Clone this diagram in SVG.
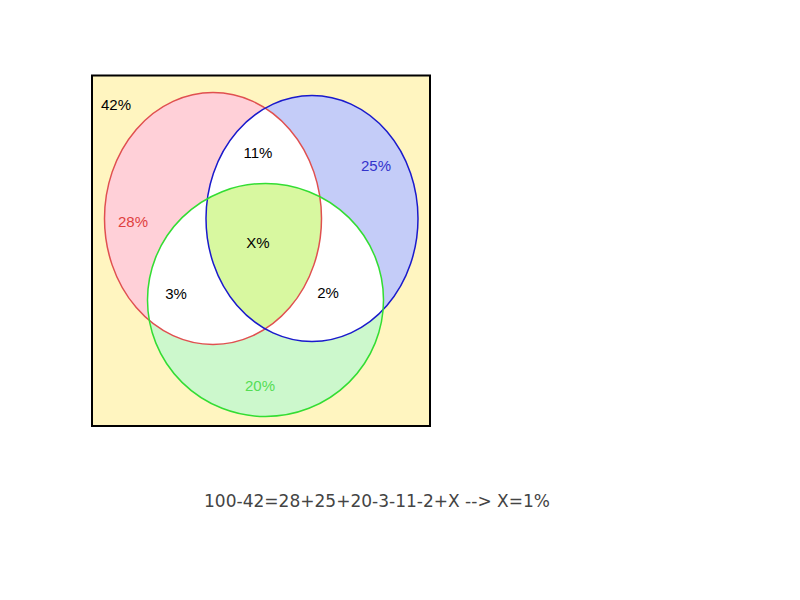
<svg xmlns="http://www.w3.org/2000/svg" width="800" height="600" viewBox="0 0 800 600">
<style>
text{font-family:"Liberation Sans",Arial,sans-serif;font-size:15px;text-anchor:middle}
.eq{font-family:"DejaVu Sans","Liberation Sans",sans-serif;font-size:18px;fill:#444}
</style>
<defs>
<clipPath id="cR"><ellipse cx="213" cy="218.5" rx="108.5" ry="126"/></clipPath>
<clipPath id="cB"><ellipse cx="312" cy="218.5" rx="106" ry="123"/></clipPath>
<clipPath id="cG"><ellipse cx="265.5" cy="300" rx="118" ry="116.5"/></clipPath>
</defs>
<rect width="800" height="600" fill="#fff"/>
<g id="frame"><rect x="92" y="75.5" width="338" height="350.5" fill="#fff5c0" stroke="#000" stroke-width="2"/></g>
<g id="fills">
<ellipse cx="213" cy="218.5" rx="108.5" ry="126" fill="#ffd0d8"/>
<ellipse cx="312" cy="218.5" rx="106" ry="123" fill="#c4ccf8"/>
<ellipse cx="265.5" cy="300" rx="118" ry="116.5" fill="#ccf8cc"/>
<ellipse cx="312" cy="218.5" rx="106" ry="123" fill="#fff" clip-path="url(#cR)"/>
<ellipse cx="265.5" cy="300" rx="118" ry="116.5" fill="#fff" clip-path="url(#cR)"/>
<ellipse cx="265.5" cy="300" rx="118" ry="116.5" fill="#fff" clip-path="url(#cB)"/>
<g clip-path="url(#cB)"><ellipse cx="265.5" cy="300" rx="118" ry="116.5" fill="#d8f8a0" clip-path="url(#cR)"/></g>
</g>
<g id="red"><ellipse cx="213" cy="218.5" rx="108.5" ry="126" fill="none" stroke="#e05050" stroke-width="1.5"/></g>
<g id="blue"><ellipse cx="312" cy="218.5" rx="106" ry="123" fill="none" stroke="#1a1acc" stroke-width="1.5"/></g>
<g id="green"><ellipse cx="265.5" cy="300" rx="118" ry="116.5" fill="none" stroke="#33dd33" stroke-width="1.5"/></g>
<g id="labels">
<text x="116" y="110">42%</text>
<text x="258" y="158">11%</text>
<text x="376" y="171" fill="#3333cc">25%</text>
<text x="133" y="227" fill="#e04040">28%</text>
<text x="258" y="248">X%</text>
<text x="176" y="299">3%</text>
<text x="328" y="298">2%</text>
<text x="260" y="391" fill="#55dd55">20%</text>
</g>
<text class="eq" x="377" y="507" textLength="346" lengthAdjust="spacingAndGlyphs">100-42=28+25+20-3-11-2+X --&gt; X=1%</text>
</svg>
